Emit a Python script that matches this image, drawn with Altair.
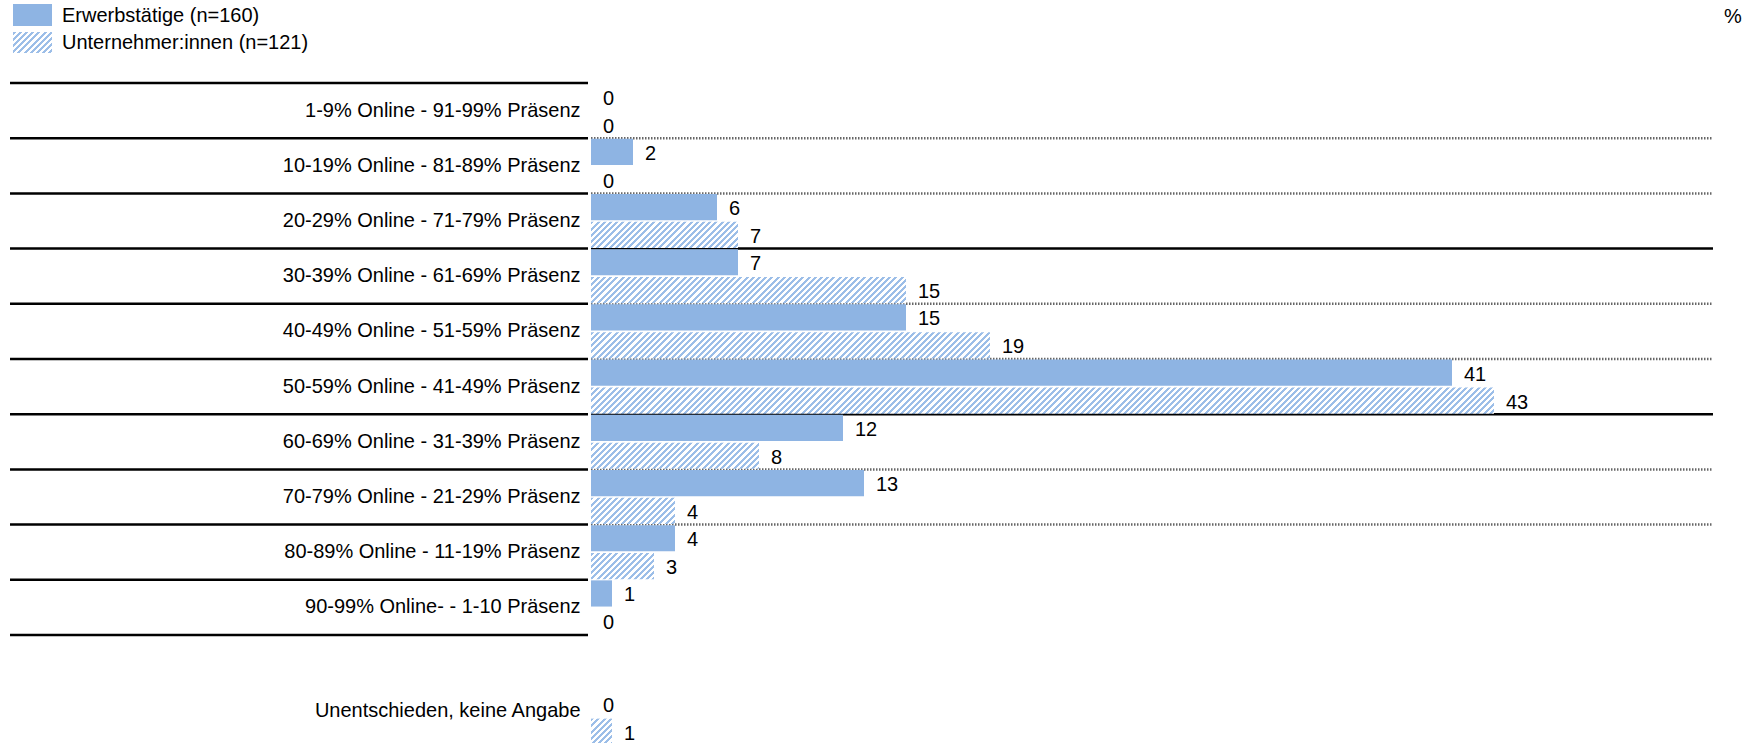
import math
import altair as alt
import pandas as pd

# ---------------- data ----------------
categories = [
    "1-9% Online - 91-99% Präsenz",
    "10-19% Online - 81-89% Präsenz",
    "20-29% Online - 71-79% Präsenz",
    "30-39% Online - 61-69% Präsenz",
    "40-49% Online - 51-59% Präsenz",
    "50-59% Online - 41-49% Präsenz",
    "60-69% Online - 31-39% Präsenz",
    "70-79% Online - 21-29% Präsenz",
    "80-89% Online - 11-19% Präsenz",
    "90-99% Online- - 1-10 Präsenz",
    "Unentschieden, keine Angabe",
]
gap_category = " "
series_names = ["Erwerbstätige (n=160)", "Unternehmer:innen (n=121)"]
erwerbstaetige = [0, 2, 6, 7, 15, 41, 12, 13, 4, 1, 0]
unternehmer = [0, 0, 7, 15, 19, 43, 8, 4, 3, 0, 1]
unit_label = "%"

# separator lines: which boundaries continue across the plot, and how
right_sep_categories = categories[1:9]
right_sep_styles = ["dot", "dot", "solid", "dot", "dot", "solid", "dot", "dot"]

# ---------------- layout ----------------
FONT = "Liberation Sans"
BLUE = "#8EB4E3"
HATCH_BLUE = "#9CBEE8"
W = 1122
ROW = 55.2
domain_cats = categories[:10] + [gap_category] + categories[10:]
H = ROW * len(domain_cats)
PX_PER_UNIT = 21.0
XMAX = W / PX_PER_UNIT
P_IN, P_OUT = 0.06, 0.02
BAND_H = ROW / (2 - P_IN + 2 * P_OUT) * (1 - P_IN)

rows = []
for c, a, b in zip(categories, erwerbstaetige, unternehmer):
    rows.append({"cat": c, "series": series_names[0], "value": a})
    rows.append({"cat": c, "series": series_names[1], "value": b})
df = pd.DataFrame(rows)

y_scale = alt.Scale(domain=domain_cats, paddingInner=0, paddingOuter=0)
y_axis = alt.Axis(title=None, ticks=False, domain=False, grid=False,
                  labelPadding=11, labelLimit=0, labelFontSize=20,
                  labelFont=FONT, labelColor="#000000",
                  labelOffset={"condition": {"test": "datum.value === '" + categories[10] + "'",
                                             "value": -7},
                               "value": 0})
x_enc = alt.X("value:Q", scale=alt.Scale(domain=[0, XMAX], nice=False, zero=True), axis=None)
y_enc = alt.Y("cat:N", scale=y_scale, axis=y_axis, sort=domain_cats)
yoff_enc = alt.YOffset("series:N", scale=alt.Scale(domain=series_names,
                                                   paddingInner=P_IN, paddingOuter=P_OUT))


def hatch(w, h, period_h=6.2, frac=0.5):
    """diagonal '/' stripes as a linear gradient in bounding-box units"""
    L = (w + h) / math.sqrt(2)
    P = period_h / math.sqrt(2)
    c = (w + h) / (w * w + h * h)
    stops = []
    k = 0
    while k * P < L:
        o0 = k * P / L
        o1 = min((k + frac) * P / L, 1.0)
        o2 = min((k + 1) * P / L, 1.0)
        stops += [{"offset": round(o0, 5), "color": HATCH_BLUE},
                  {"offset": round(o1, 5), "color": HATCH_BLUE},
                  {"offset": round(o1, 5), "color": "#FFFFFF"},
                  {"offset": round(o2, 5), "color": "#FFFFFF"}]
        k += 1
    return {"gradient": "linear", "x1": 0, "y1": 0,
            "x2": round(w * c, 5), "y2": round(h * c, 5), "stops": stops}


layers = []

# left separator lines (label column)
left_df = pd.DataFrame({"cat": categories[:10] + [gap_category]})
layers.append(
    alt.Chart(left_df).mark_rule(color="#000000", strokeWidth=2.5).encode(
        y=alt.Y("cat:N", scale=y_scale, axis=y_axis, sort=domain_cats, bandPosition=0),
        x=alt.value(-581), x2=alt.value(-3))
)
# right separator lines
right_df = pd.DataFrame({"cat": right_sep_categories, "style": right_sep_styles})
layers.append(
    alt.Chart(right_df).transform_filter(alt.datum.style == "dot")
    .mark_rule(color="#666666", strokeWidth=2.5, strokeDash=[1.5, 1.5]).encode(
        y=alt.Y("cat:N", scale=y_scale, axis=y_axis, sort=domain_cats, bandPosition=0),
        x=alt.value(0), x2=alt.value(W))
)
layers.append(
    alt.Chart(right_df).transform_filter(alt.datum.style == "solid")
    .mark_rule(color="#000000", strokeWidth=2.5).encode(
        y=alt.Y("cat:N", scale=y_scale, axis=y_axis, sort=domain_cats, bandPosition=0),
        x=alt.value(0), x2=alt.value(W))
)

# solid bars
layers.append(
    alt.Chart(df).transform_filter(alt.datum.series == series_names[0])
    .mark_bar(color=BLUE).encode(x=x_enc, y=y_enc, yOffset=yoff_enc)
)
# hatched bars, one layer each (hatch depends on bar width)
for c, v in zip(categories, unternehmer):
    if v <= 0:
        continue
    one = pd.DataFrame({"cat": [c], "series": [series_names[1]], "value": [v]})
    layers.append(
        alt.Chart(one).mark_bar(fill=hatch(v * PX_PER_UNIT, BAND_H)).encode(
            x=x_enc, y=y_enc, yOffset=yoff_enc)
    )

# value labels
layers.append(
    alt.Chart(df).mark_text(align="left", baseline="middle", dx=12, dy=2,
                            fontSize=20, font=FONT, color="#000000").encode(
        x=x_enc, y=y_enc, yOffset=yoff_enc, text=alt.Text("value:Q"))
)

# legend (drawn manually)
leg0 = pd.DataFrame({"label": [series_names[0]]})
leg1 = pd.DataFrame({"label": [series_names[1]]})
layers.append(alt.Chart(leg0).mark_rect(color=BLUE).encode(
    x=alt.value(-578), x2=alt.value(-539), y=alt.value(-79), y2=alt.value(-57)))
layers.append(alt.Chart(leg1).mark_rect(fill=hatch(39, 21)).encode(
    x=alt.value(-578), x2=alt.value(-539), y=alt.value(-51), y2=alt.value(-30)))
layers.append(alt.Chart(leg0).mark_text(align="left", baseline="middle", fontSize=20,
                                        font=FONT, color="#000000").encode(
    x=alt.value(-529), y=alt.value(-67), text="label:N"))
layers.append(alt.Chart(leg1).mark_text(align="left", baseline="middle", fontSize=20,
                                        font=FONT, color="#000000").encode(
    x=alt.value(-529), y=alt.value(-40), text="label:N"))

# unit label
unit_df = pd.DataFrame({"u": [unit_label]})
layers.append(alt.Chart(unit_df).mark_text(align="center", baseline="middle", fontSize=20,
                                           font=FONT, color="#000000").encode(
    x=alt.value(1142), y=alt.value(-66), text="u:N"))

chart = (
    alt.layer(*layers)
    .properties(width=W, height=H,
                autosize=alt.AutoSizeParams(type="none"),
                padding={"left": 591, "top": 83, "right": 47, "bottom": 0},
                background="#FFFFFF")
    .configure(font=FONT)
    .configure_view(stroke="transparent", strokeWidth=0)
)

chart.save("out.html", embed_options={"renderer": "svg", "actions": False})
